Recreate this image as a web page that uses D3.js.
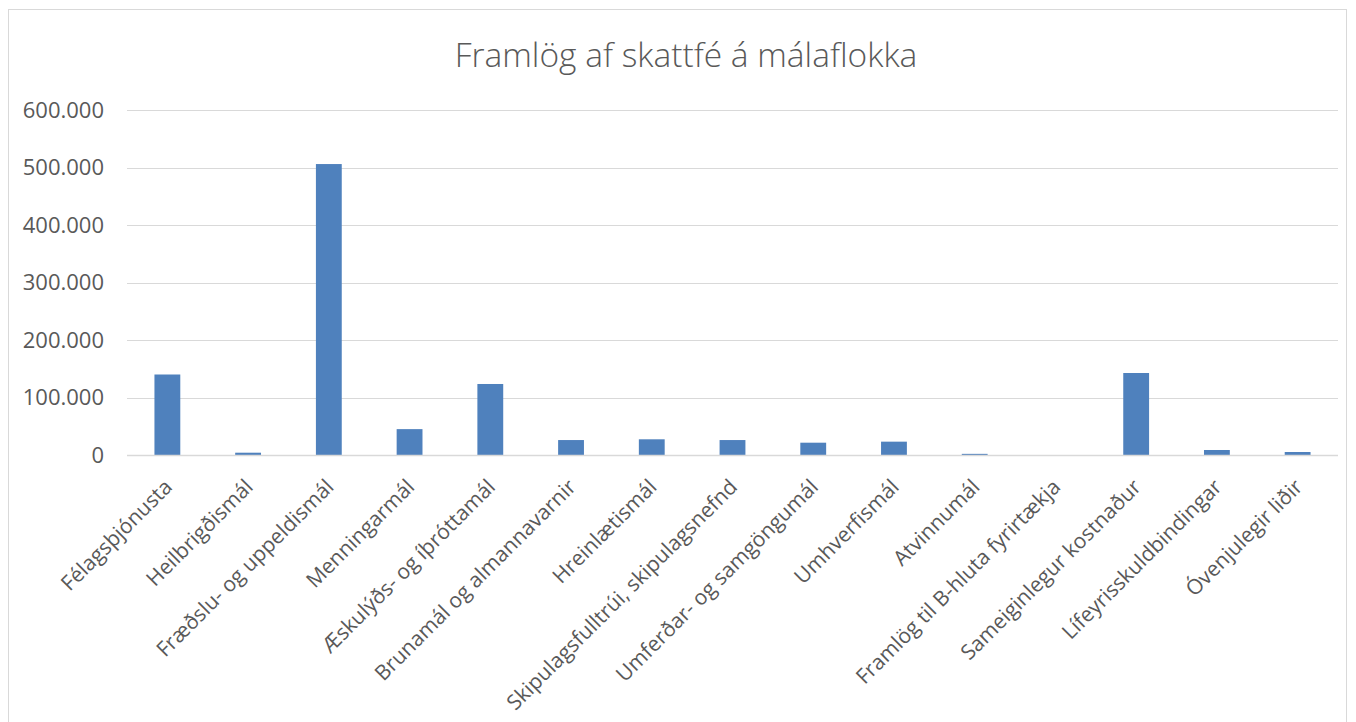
<!DOCTYPE html>
<html>
<head>
<meta charset="utf-8">
<script src="https://cdn.jsdelivr.net/npm/d3@7"></script>
<style>
  body { margin: 0; background: #fff; }
  text { font-family: "Open Sans", "DejaVu Sans", sans-serif; fill: #595959; }
</style>
</head>
<body>
<div id="chart"></div>
<script>
// Categories (málaflokkar)
const categories = [
  "Félagsþjónusta",
  "Heilbrigðismál",
  "Fræðslu- og uppeldismál",
  "Menningarmál",
  "Æskulýðs- og íþróttamál",
  "Brunamál og almannavarnir",
  "Hreinlætismál",
  "Skipulagsfulltrúi, skipulagsnefnd",
  "Umferðar- og samgöngumál",
  "Umhverfismál",
  "Atvinnumál",
  "Framlög til B-hluta fyrirtækja",
  "Sameiginlegur kostnaður",
  "Lífeyrisskuldbindingar",
  "Óvenjulegir liðir"
];

// Framlög
const values = [
  140000, 4000, 506000, 45000, 123500, 26000, 27300, 26000,
  21400, 23200, 2000, 0, 142600, 8700, 5200
];

const yTicks = [0, 100000, 200000, 300000, 400000, 500000, 600000];
const title = "Framlög af skattfé á málaflokka";

const width = 1356;
const height = 722;
const margin = { top: 110, right: 18, bottom: 267, left: 127 };

const svg = d3.select("#chart").append("svg")
  .attr("width", width)
  .attr("height", height);

// chart frame
svg.append("rect")
  .attr("x", 8.5).attr("y", 9.5)
  .attr("width", 1338).attr("height", 730)
  .attr("fill", "none")
  .attr("stroke", "#d9d9d9");

svg.append("text")
  .attr("x", 686)
  .attr("y", 67)
  .attr("text-anchor", "middle")
  .style("font-size", "33.5px")
  .style("font-weight", 300)
  .text(title);

const x = d3.scaleBand()
  .domain(categories)
  .range([margin.left, width - margin.right])
  .paddingInner(0.68)
  .paddingOuter(0.34);

const y = d3.scaleLinear()
  .domain([0, 600000])
  .range([height - margin.bottom, margin.top]);

const fmt = d => d === 0 ? "0" : d3.format(",")(d).replace(/,/g, ".");

// gridlines
svg.append("g")
  .selectAll("line")
  .data(yTicks.filter(d => d > 0))
  .enter().append("line")
  .attr("x1", margin.left)
  .attr("x2", width - margin.right)
  .attr("y1", d => Math.round(y(d)) + 0.5)
  .attr("y2", d => Math.round(y(d)) + 0.5)
  .attr("stroke", "#d9d9d9")
  .attr("stroke-width", 1);

// y labels
svg.append("g")
  .selectAll("text")
  .data(yTicks)
  .enter().append("text")
  .attr("x", 104)
  .attr("y", d => y(d))
  .attr("dy", "0.35em")
  .attr("text-anchor", "end")
  .style("font-size", "22px")
  .text(fmt);

// bars
svg.append("g")
  .selectAll("rect")
  .data(values)
  .enter().append("rect")
  .attr("x", (d, i) => x(categories[i]))
  .attr("y", d => y(d))
  .attr("width", x.bandwidth())
  .attr("height", d => y(0) - y(d))
  .attr("fill", "#4f81bd");

// baseline
svg.append("line")
  .attr("x1", margin.left)
  .attr("x2", width - margin.right)
  .attr("y1", y(0) + 0.5)
  .attr("y2", y(0) + 0.5)
  .attr("stroke", "#d9d9d9")
  .attr("stroke-width", 1.5);

// rotated category labels
svg.append("g")
  .selectAll("text")
  .data(categories)
  .enter().append("text")
  .attr("transform", d => `translate(${x(d) + x.bandwidth() / 2 + 1},${y(0) + 28}) rotate(-45)`)
  .attr("text-anchor", "end")
  .attr("dy", "0.35em")
  .style("font-size", "21px")
  .text(d => d);
</script>
</body>
</html>
